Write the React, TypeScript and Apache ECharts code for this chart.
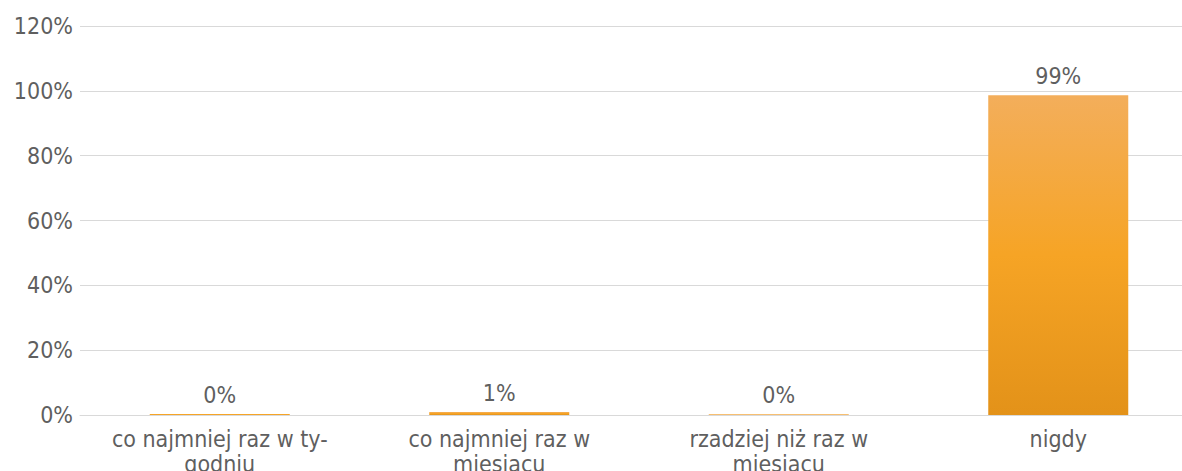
import React, { useEffect, useRef } from "react";
import * as echarts from "echarts";

const categories = [
  "co najmniej raz w ty-\ngodniu",
  "co najmniej raz w\nmiesiącu",
  "rzadziej niż raz w\nmiesiącu",
  "nigdy",
];
const values = [0.3, 0.9, 0.2, 98.6];
const yTicks = { min: 0, max: 120, interval: 20 };

const FONT = "'DejaVu Sans Condensed', 'DejaVu Sans', sans-serif";

export default function App() {
  const ref = useRef<HTMLDivElement>(null);
  useEffect(() => {
    document.body.style.margin = "0";
    const chart = echarts.init(ref.current!, null, { renderer: "svg" });
    chart.setOption({
      animation: false,
      textStyle: { fontFamily: FONT },
      grid: {
        left: 80,
        width: 1118,
        top: 26,
        bottom: 56,
        containLabel: false,
        outerBoundsMode: "none",
      },
      xAxis: {
        type: "category",
        data: categories,
        axisTick: { show: false },
        axisLine: { show: true, lineStyle: { color: "#D9D9D9", width: 1 } },
        axisLabel: {
          color: "#5f5f5f",
          fontSize: 23,
          fontFamily: FONT,
          margin: 11,
          lineHeight: 25,
          interval: 0,
        },
      },
      yAxis: {
        type: "value",
        min: yTicks.min,
        max: yTicks.max,
        interval: yTicks.interval,
        axisLine: { show: false },
        axisTick: { show: false },
        splitLine: { lineStyle: { color: "#D9D9D9", width: 1 } },
        axisLabel: {
          color: "#5f5f5f",
          fontSize: 23,
          fontFamily: FONT,
          margin: 7,
          formatter: "{value}%",
        },
      },
      series: [
        {
          type: "bar",
          data: values,
          barWidth: 140,
          itemStyle: {
            color: new echarts.graphic.LinearGradient(0, 0, 0, 1, [
              { offset: 0, color: "#F3AE5B" },
              { offset: 0.5, color: "#F6A425" },
              { offset: 1, color: "#E39219" },
            ]),
          },
          label: {
            show: true,
            position: "top",
            distance: 8,
            color: "#5f5f5f",
            fontSize: 23,
            fontFamily: FONT,
            formatter: (p: any) => Math.round(p.value) + "%",
          },
        },
      ],
    });
    return () => chart.dispose();
  }, []);
  return <div ref={ref} style={{ width: 1182, height: 471 }} />;
}
